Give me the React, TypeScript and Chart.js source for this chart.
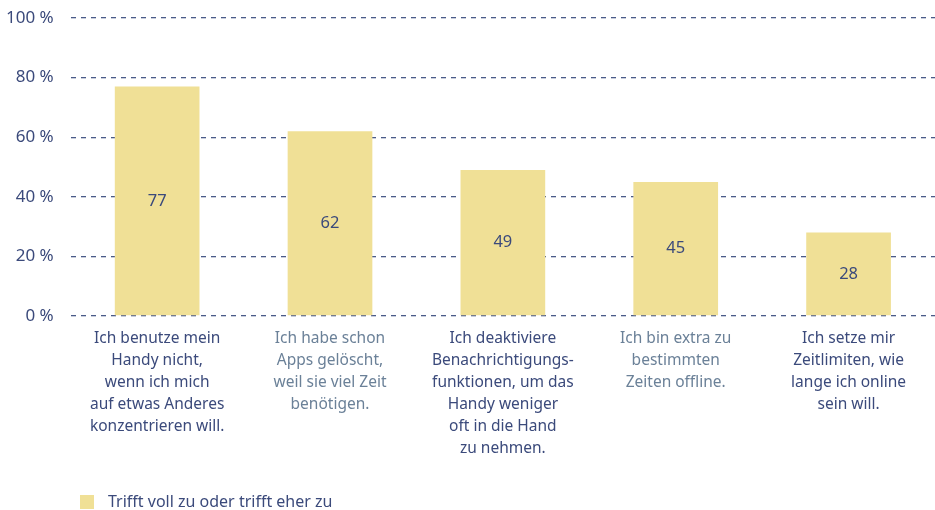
import React, { useEffect, useRef } from "react";
import { Chart, registerables } from "chart.js";

Chart.register(...registerables);

const categories: string[][] = [
  ["Ich benutze mein", "Handy nicht,", "wenn ich mich", "auf etwas Anderes", "konzentrieren will."],
  ["Ich habe schon", "Apps gelöscht,", "weil sie viel Zeit", "benötigen."],
  ["Ich deaktiviere", "Benachrichtigungs-", "funktionen, um das", "Handy weniger", "oft in die Hand", "zu nehmen."],
  ["Ich bin extra zu", "bestimmten", "Zeiten offline."],
  ["Ich setze mir", "Zeitlimiten, wie", "lange ich online", "sein will."],
];
const values: number[] = [77, 62, 49, 45, 28];
const seriesLabel = "Trifft voll zu oder trifft eher zu";
const yTicks: number[] = [0, 20, 40, 60, 80, 100];

const DARK = "#3b4a7b";
const LIGHT = "#6b8198";
const BAR = "#f0e096";
const GRID = "#4a5a88";
const FONT = "'Noto Sans', sans-serif";
const Y_PAD = 17;

const valueLabels = {
  id: "valueLabels",
  afterDatasetsDraw(chart: any) {
    const ctx = chart.ctx;
    const meta = chart.getDatasetMeta(0);
    ctx.save();
    ctx.font = `16.5px ${FONT}`;
    ctx.fillStyle = DARK;
    ctx.textAlign = "center";
    ctx.textBaseline = "middle";
    meta.data.forEach((el: any, i: number) => {
      const v = chart.data.datasets[0].data[i];
      ctx.fillText(String(v), el.x, (el.y + el.base) / 2);
    });
    ctx.restore();
  },
};

const customLegend = {
  id: "customLegend",
  afterDraw(chart: any) {
    const ctx = chart.ctx;
    const ds = chart.data.datasets[0];
    const y = chart.height - 8;
    ctx.save();
    ctx.fillStyle = ds.backgroundColor;
    ctx.fillRect(80, y - 7, 14, 14);
    ctx.font = `16px ${FONT}`;
    ctx.fillStyle = DARK;
    ctx.textAlign = "left";
    ctx.textBaseline = "middle";
    ctx.fillText(ds.label, 108, y);
    ctx.restore();
  },
};

export default function App() {
  const ref = useRef<HTMLCanvasElement | null>(null);
  useEffect(() => {
    if (!ref.current) return;
    const chart = new Chart(ref.current, {
      type: "bar",
      data: {
        labels: categories as any,
        datasets: [
          {
            label: seriesLabel,
            data: values,
            backgroundColor: BAR,
            categoryPercentage: 1,
            barPercentage: 0.49,
          },
        ],
      },
      options: {
        animation: false,
        responsive: true,
        maintainAspectRatio: false,
        layout: { padding: { top: 18, left: 6, right: 0, bottom: 38 } },
        plugins: {
          legend: { display: false },
          tooltip: { enabled: false },
        },
        scales: {
          x: {
            afterFit: (axis: any) => {
              axis.paddingLeft = 0;
              axis.paddingRight = 0;
            },
            grid: { display: false, drawTicks: false },
            border: { display: false },
            ticks: {
              autoSkip: false,
              maxRotation: 0,
              minRotation: 0,
              padding: 12,
              font: { family: FONT, size: 15.5, lineHeight: 22 / 15.5 },
              color: (c: any) => (c.index % 2 === 0 ? DARK : LIGHT),
            },
          },
          y: {
            min: 0,
            max: 100,
            afterBuildTicks: (axis: any) => {
              axis.ticks = yTicks.map((v) => ({ value: v }));
            },
            afterFit: (axis: any) => {
              axis.paddingTop = 0;
              axis.paddingBottom = 0;
              axis.width = axis.width - Y_PAD;
            },
            grid: { color: GRID, lineWidth: 1.3, drawTicks: false },
            border: { display: false, dash: [5, 5] },
            ticks: {
              padding: Y_PAD,
              font: { family: FONT, size: 17 },
              color: DARK,
              callback: (v: any) => `${v} %`,
            },
          },
        },
      },
      plugins: [valueLabels, customLegend],
    });
    return () => chart.destroy();
  }, []);
  return (
    <div style={{ position: "fixed", left: 0, top: 0, width: 935, height: 510, background: "#fff" }}>
      <canvas ref={ref} />
    </div>
  );
}
